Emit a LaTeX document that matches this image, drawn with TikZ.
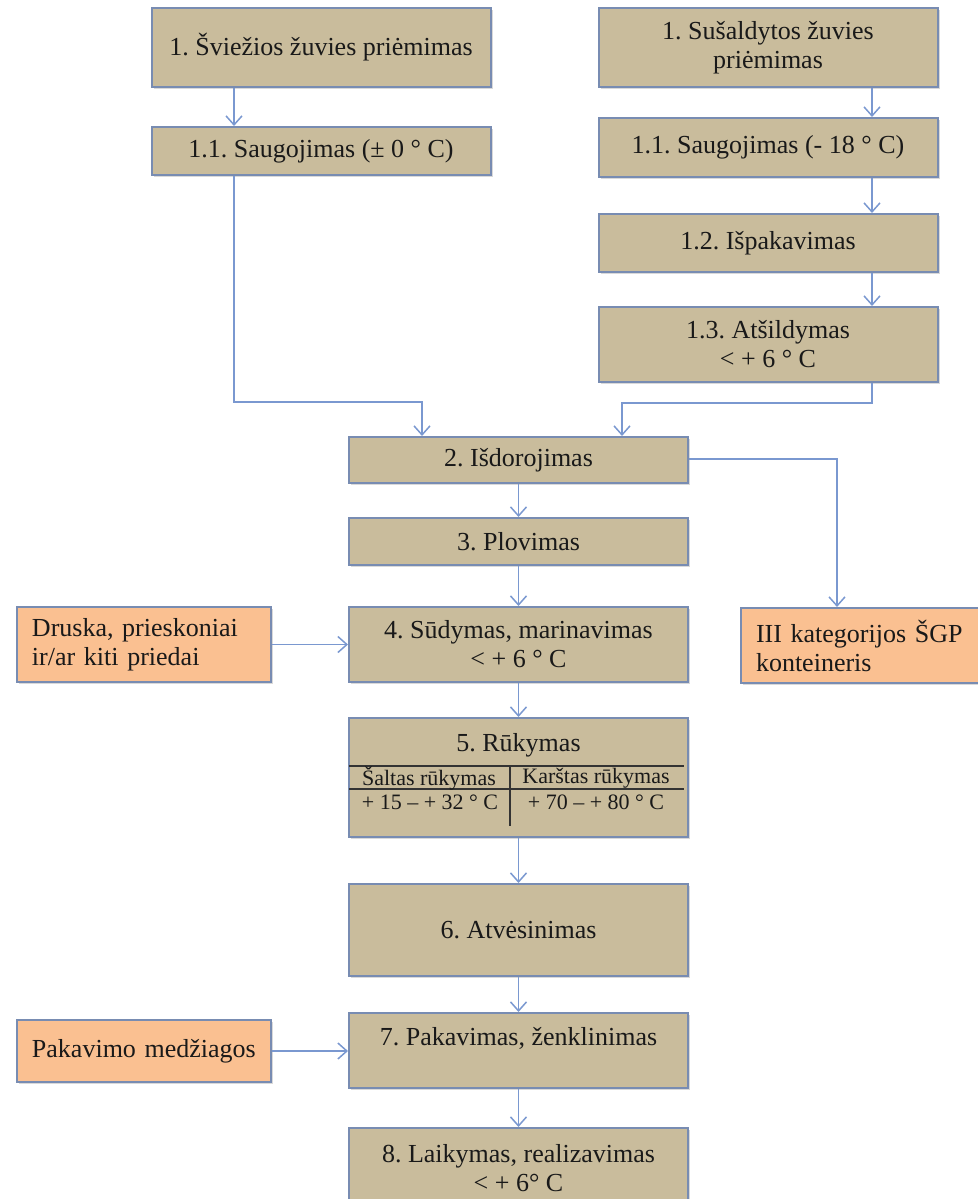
\documentclass[tikz,border=0pt]{standalone}
\usepackage{fontspec}
\setmainfont{Liberation Serif}
\frenchspacing
\usetikzlibrary{calc,arrows.meta,shadows}
\definecolor{boxtan}{RGB}{201,188,156}
\definecolor{boxedge}{RGB}{120,140,178}
\definecolor{inorange}{RGB}{250,192,145}
\definecolor{flowblue}{RGB}{122,152,208}
\tikzset{
  proc/.style={draw=boxedge,line width=1pt,fill=boxtan,minimum width=169.5pt,align=center,inner sep=2pt,
    font=\fontsize{13}{14.5}\selectfont,text=black!90,drop shadow={shadow xshift=1pt,shadow yshift=-1pt,opacity=0.3}},
  extra/.style={proc,fill=inorange,minimum width=127pt,text width=112pt,align=left},
  flow/.style={draw=flowblue,line width=0.75pt,-{Straight Barb[length=4.5pt,width=8pt]}},
  tline/.style={line width=0.6pt,black!80},
  tcell/.style={font=\fontsize{11}{12}\selectfont,text=black!90,inner sep=0pt}
}
\begin{document}
\begin{tikzpicture}[x=0.5pt,y=-0.5pt]
      \useasboundingbox(0,0)rectangle(978,1199);
      % fresh fish branch
      \node[proc,minimum height=39.5pt](A1)at(321,47.5){1. Šviežios žuvies priėmimas};
      \node[proc,minimum height=24pt](A2)at(321,151){1.1. Saugojimas (± 0 ° C)};
      % frozen fish branch
      \node[proc,minimum height=39.5pt](B1)at(768,47.5){1. Sušaldytos žuvies\\ priėmimas};
      \node[proc,minimum height=29.5pt](B2)at(768,147.5){1.1. Saugojimas (- 18 ° C)};
      \node[proc,minimum height=29pt](B3)at(768,243){1.2. Išpakavimas};
      \node[proc,minimum height=37.5pt](B4)at(768,344.5){1.3. Atšildymas\\ < + 6 ° C};
      % main line
      \node[proc,minimum height=23pt](C2)at(518.5,460){2. Išdorojimas};
      \node[proc,minimum height=23.5pt](C3)at(518.5,541.5){3. Plovimas};
      \node[proc,minimum height=37.5pt](C4)at(518.5,644.5){4. Sūdymas, marinavimas\\ < + 6 ° C};
      \node[proc,minimum height=59.5pt](C5)at(518.5,777.5){};
      \node[proc,minimum height=46pt](C6)at(518.5,930){6. Atvėsinimas};
      \node[proc,minimum height=37.5pt](C7)at(518.5,1050.5){7. Pakavimas, ženklinimas\\~};
      \node[proc,minimum height=40pt](C8)at(518.5,1168){8. Laikymas, realizavimas\\ < + 6° C};
      % inputs and waste
      \node[extra,minimum height=37.5pt](D)at(144,644.5){Druska, prieskoniai\\ ir/ar kiti priedai};
      \node[extra,minimum height=31pt](P)at(144,1051){Pakavimo medžiagos};
      \node[extra,minimum height=37.5pt](S)at(868,645.5){III kategorijos ŠGP\\ konteineris};
      % smoking table
      \node[tcell,font=\fontsize{13}{14.5}\selectfont](R)at(518.5,745){5. Rūkymas};
      \draw[tline]($(C5.north west)+(1,49)$)--($(C5.north east)+(-5,49)$)
        ($(C5.north west)+(1,72)$)--($(C5.north east)+(-5,72)$)
        ($(C5.north west)+(162,49)$)--++(0,60);
      \foreach \N/\X/\Y/\T in{s1/429/778/Šaltas rūkymas, k1/596/778/Karštas rūkymas,
        s2/430/802/+ 15 – + 32 ° C, k2/596/802/+ 70 – + 80 ° C}{
        \node[tcell](\N)at(\X,\Y){\T};
      }
      % connectors
      \coordinate(ax)at(234,0);\coordinate(bx)at(872,0);
      \coordinate(ja)at(422,402);\coordinate(jb)at(622,403);\coordinate(jc)at(837,459);
      \draw[flow](A1.south-|ax)--(A2.north-|ax);
      \foreach \a/\b in{B1/B2,B2/B3,B3/B4}{
        \draw[flow](\a.south-|bx)--(\b.north-|bx);
      }
      \draw[flow](A2.south-|ax)|-(ja)--(C2.north-|ja);
      \draw[flow](B4.south-|bx)|-(jb)--(C2.north-|jb);
      \draw[flow](C2.east|-jc)-|(S.north-|jc);
      \foreach \a/\b in{C2/C3,C3/C4,C4/C5,C5/C6,C6/C7,C7/C8}{
        \draw[flow](\a)--(\b);
      }
      \draw[flow](D)--(C4);
      \draw[flow](P.east)--(C7.west|-P.east);
\end{tikzpicture}
\end{document}
